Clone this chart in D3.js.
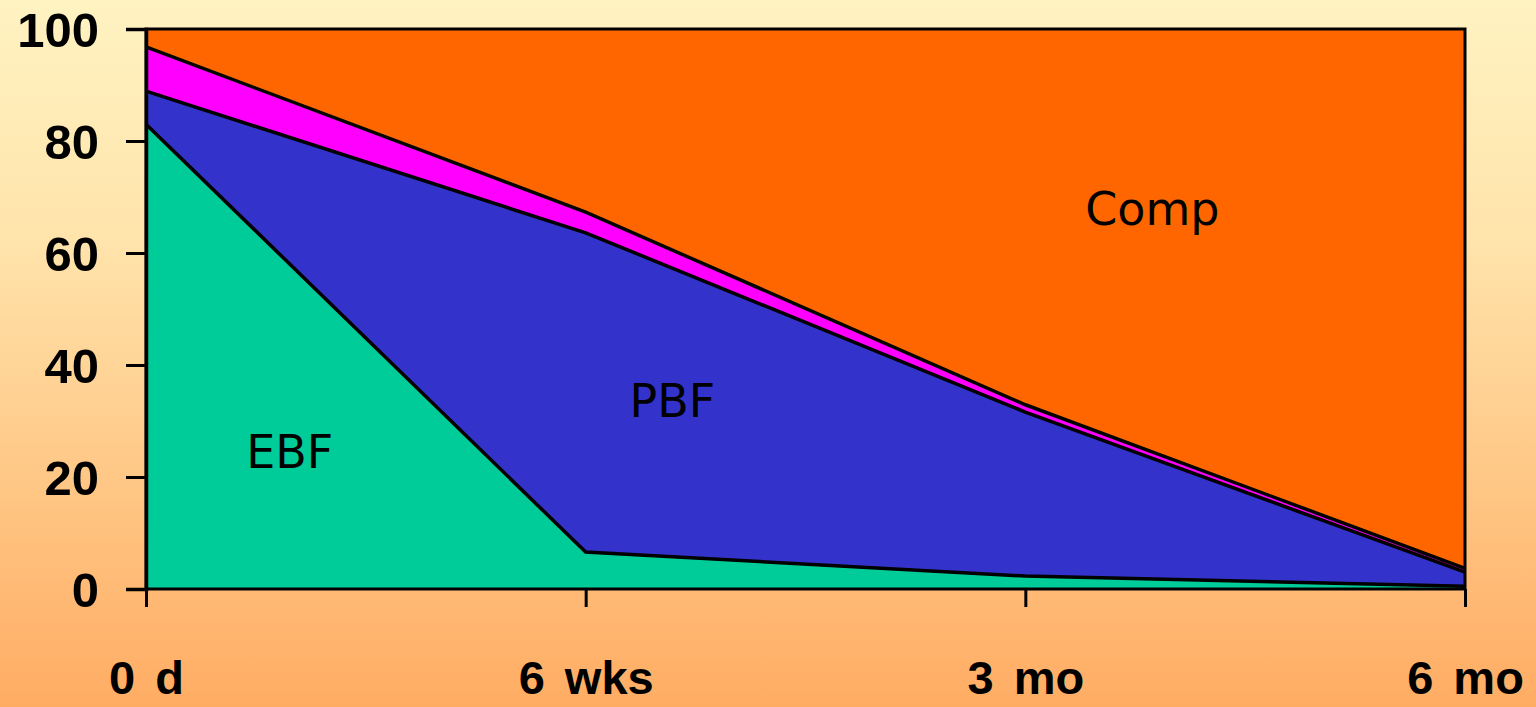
<!DOCTYPE html>
<html><head><meta charset="utf-8">
<script src="https://cdn.jsdelivr.net/npm/d3@7"></script>
<style>html,body{margin:0;padding:0;overflow:hidden}</style>
</head><body>
<svg id="c" width="1536" height="707"></svg>
<script>
const categories = ["0 d", "6 wks", "3 mo", "6 mo"];
const seriesNames = ["EBF", "PBF", "Mixed", "Comp"];
const EBF   = [83.0, 6.6, 2.3, 0.5];
const PBF   = [5.9, 57.0, 29.3, 2.5];
const Mixed = [7.9, 3.7, 1.3, 0.7];
const Comp  = [3.2, 32.7, 67.1, 96.3];
const yTicks = [0, 20, 40, 60, 80, 100];
const colors = ["#00CC99", "#3333CC", "#FF00FF", "#FF6600"];

const rows = categories.map((c, i) => ({cat: c, EBF: EBF[i], PBF: PBF[i], Mixed: Mixed[i], Comp: Comp[i]}));
const svg = d3.select("#c");
const W = 1536, H = 707;
const defs = svg.append("defs");
const g1 = defs.append("linearGradient").attr("id","bg").attr("x1",0).attr("y1",0).attr("x2",0).attr("y2",1);
g1.append("stop").attr("offset","0%").attr("stop-color","#FFF3C2");
g1.append("stop").attr("offset","35%").attr("stop-color","#FFE3AA");
g1.append("stop").attr("offset","100%").attr("stop-color","#FFAC63");
svg.append("rect").attr("width",W).attr("height",H).attr("fill","url(#bg)");

const m = {l:146, r:1465, t:29, b:589};
const x = d3.scalePoint().domain(categories).range([m.l, m.r]);
const y = d3.scaleLinear().domain([0,100]).range([m.b, m.t]);

const stack = d3.stack().keys(seriesNames)(rows);
const area = d3.area().x(d => x(d.data.cat)).y0(d => y(d[0])).y1(d => y(d[1]));
const line = d3.line().x(d => x(d.data.cat)).y(d => y(d[1]));

svg.append("g").selectAll("path").data(stack).join("path")
  .attr("d", area).attr("fill", (d,i) => colors[i]);
svg.append("g").selectAll("path").data(stack.slice(0,3)).join("path")
  .attr("d", line).attr("fill","none").attr("stroke","#000").attr("stroke-width",3.5);

// frame
svg.append("rect").attr("x",m.l).attr("y",m.t).attr("width",m.r-m.l).attr("height",m.b-m.t)
  .attr("fill","none").attr("stroke","#000").attr("stroke-width",3);

const fontB = "'Liberation Sans', Arial, sans-serif";
// y axis
const ya = svg.append("g").attr("transform",`translate(${m.l},0)`)
  .call(d3.axisLeft(y).tickValues(yTicks).tickSize(20).tickPadding(27));
ya.select(".domain").attr("stroke","#000").attr("stroke-width",3.5);
ya.selectAll(".tick line").attr("stroke","#000").attr("stroke-width",3);
ya.selectAll(".tick text").attr("font-family",fontB).attr("font-weight","bold")
  .attr("font-size",49).attr("fill","#000").attr("dy","0.36em");

// x axis
const xa = svg.append("g").attr("transform",`translate(0,${m.b})`)
  .call(d3.axisBottom(x).tickSize(18).tickPadding(70));
xa.select(".domain").remove();
xa.selectAll(".tick line").attr("stroke","#000").attr("stroke-width",3);
xa.selectAll(".tick text").attr("font-family",fontB).attr("font-weight","bold")
  .attr("font-size",47).attr("fill","#000").attr("dy","0.36em")
  .attr("word-spacing", "7px");

// series labels
const labels = [
  {t:"EBF", cx:0.109, v:24.5},
  {t:"PBF", cx:0.399, v:33.5},
  {t:"Comp", cx:0.763, v:67.8}
];
svg.append("g").selectAll("text").data(labels).join("text")
  .attr("x", d => m.l + d.cx*(m.r-m.l)).attr("y", d => y(d.v))
  .attr("text-anchor","middle").attr("dominant-baseline","central")
  .attr("font-family","'DejaVu Sans', sans-serif").attr("font-size",46).attr("fill","#000")
  .text(d => d.t);
</script>
</body></html>
